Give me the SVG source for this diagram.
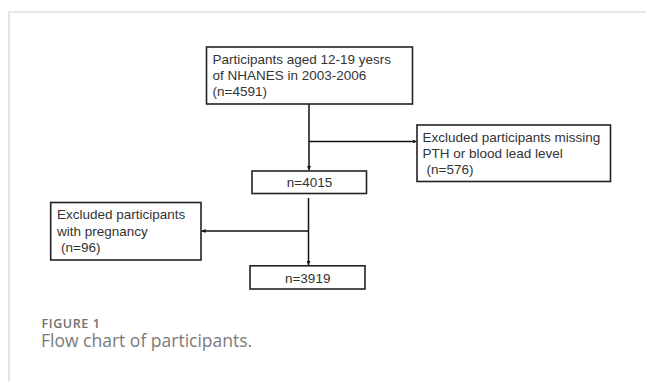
<svg xmlns="http://www.w3.org/2000/svg" width="646" height="381" viewBox="0 0 646 381">
<defs>
<style>
.box{fill:#fff;stroke:#222;stroke-width:1.6}
.t{font-family:"Liberation Sans",Arial,sans-serif;font-size:13.5px;fill:#333}
.c{text-anchor:middle}
.ln{fill:none;stroke:#111;stroke-width:1.5}
.cap1{font-family:"Open Sans",sans-serif;font-size:12.5px;font-weight:600;letter-spacing:0.6px;fill:#707070}
.cap2{font-family:"Open Sans",sans-serif;font-size:17.5px;fill:#7a7a7a}
</style>
<marker id="ah" viewBox="0 0 6 6" refX="6" refY="3" markerWidth="4" markerHeight="4" orient="auto" markerUnits="userSpaceOnUse">
<path d="M0,0 L6,3 L0,6 z" fill="#111"/>
</marker>
</defs>
<rect width="646" height="381" fill="#fff"/>
<path d="M9,381 V12 H646" fill="none" stroke="#cfcfcf" stroke-width="1.2"/>
<g id="connectors">
<line class="ln" x1="309" y1="104" x2="309" y2="170" marker-end="url(#ah)"/>
<line class="ln" x1="309" y1="141.5" x2="416.5" y2="141.5" marker-end="url(#ah)"/>
<line class="ln" x1="308.5" y1="198" x2="308.5" y2="265" marker-end="url(#ah)"/>
<line class="ln" x1="308.5" y1="231" x2="201.5" y2="231" marker-end="url(#ah)"/>
</g>
<g id="node-start">
<rect class="box" x="206.5" y="47" width="206" height="57"/>
<text class="t" x="212.5" y="64">Participants aged 12-19 yesrs</text>
<text class="t" x="212.5" y="80">of NHANES in 2003-2006</text>
<text class="t" x="212.5" y="96">(n=4591)</text>
</g>
<g id="node-excl1">
<rect class="box" x="417" y="125" width="193.5" height="56.5"/>
<text class="t" x="422.5" y="141.5">Excluded participants missing</text>
<text class="t" x="422.5" y="157.5">PTH or blood lead level</text>
<text class="t" x="426.5" y="173.5">(n=576)</text>
</g>
<g id="node-4015">
<rect class="box" x="252" y="171" width="114.5" height="22.5"/>
<text class="t c" x="309.5" y="187.3">n=4015</text>
</g>
<g id="node-excl2">
<rect class="box" x="50.7" y="202.5" width="150.3" height="57.5"/>
<text class="t" x="57" y="219.3">Excluded participants</text>
<text class="t" x="57" y="235.5">with pregnancy</text>
<text class="t" x="61" y="251.7">(n=96)</text>
</g>
<g id="node-3919">
<rect class="box" x="250" y="265.8" width="115" height="23.2"/>
<text class="t c" x="307.7" y="283.3">n=3919</text>
</g>
<text class="cap1" x="41.5" y="328.3">FIGURE 1</text>
<text class="cap2" x="41" y="347.3">Flow chart of participants.</text>
</svg>
